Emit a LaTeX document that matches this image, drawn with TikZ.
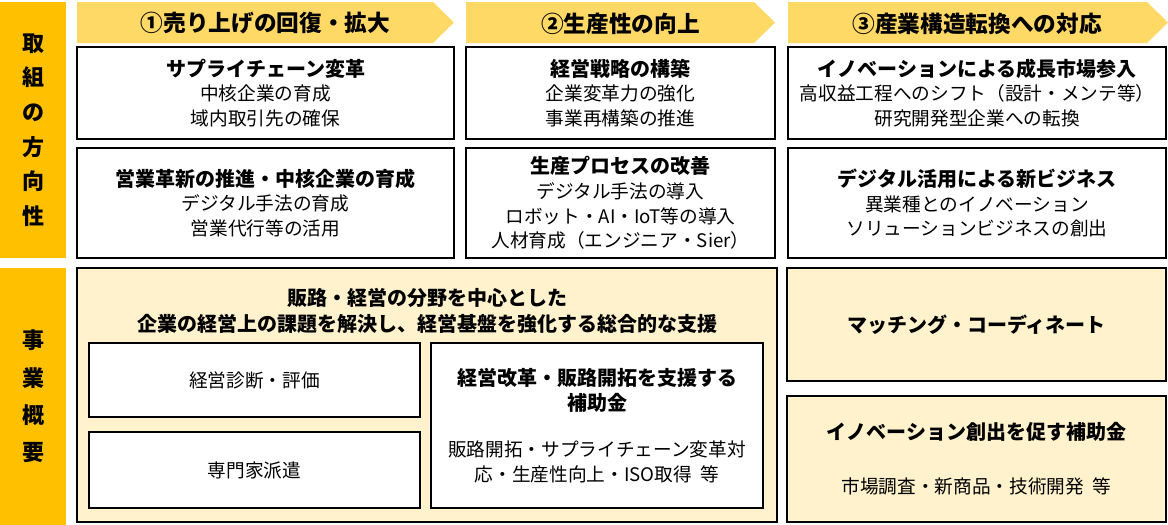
\documentclass[tikz,border=0pt]{standalone}
\usepackage{fontspec}
\setmainfont{Noto Sans CJK JP}
\usetikzlibrary{positioning}

\definecolor{sideorange}{HTML}{FFC000}
\definecolor{headyellow}{HTML}{FFD966}
\definecolor{paleyellow}{HTML}{FFF2CC}

\newcommand{\boxtitle}[1]{{\bfseries\fontsize{15}{18.5}\selectfont #1}}

\begin{document}
\begin{tikzpicture}[
  x=0.75pt, y=-0.75pt,
  size/.style 2 args={minimum width=#1*0.75pt, minimum height=#2*0.75pt},
  side/.style={fill=sideorange, inner sep=0pt, align=center, font=\bfseries\fontsize{16.5}{26}\selectfont},
  head/.style={fill=headyellow},
  headtext/.style={font=\bfseries\fontsize{17}{20}\selectfont},
  box/.style={draw, line width=1.5pt, fill=white, inner sep=0pt, align=center, font=\fontsize{14}{18.5}\selectfont},
  supp/.style={box, fill=paleyellow}
]
  \useasboundingbox (0,0) rectangle (1168,525);

  % left bars
  \node[side, size={66}{256}] (dirbar) at (33,130) {取\\組\\の\\方\\向\\性};
  \node[side, size={66}{257}, font=\bfseries\fontsize{16.5}{28}\selectfont] (planbar) at (33,396.5) {事\\業\\概\\要};

  % column heads
  \fill[head] (77,2) -- (433,2) -- (454,22.5) -- (433,43) -- (77,43) -- cycle;
  \fill[head] (466,2) -- (754,2) -- (775,22.5) -- (754,43) -- (466,43) -- cycle;
  \fill[head] (788,2) -- (1147,2) -- (1168,22.5) -- (1147,43) -- (788,43) -- cycle;
  \node[headtext] (head1) at (265.5,23.5) {①売り上げの回復・拡大};
  \node[headtext] (head2) at (620.5,23.5) {②生産性の向上};
  \node[headtext] (head3) at (977,23.5) {③産業構造転換への対応};

  % directions
  \node[box, size={377}{92}] (supply) at (265.5,93) {\boxtitle{サプライチェーン変革}\\中核企業の育成\\域内取引先の確保};
  \node[box, size={309}{92}, right=7.5pt of supply] (strategy) {\boxtitle{経営戦略の構築}\\企業変革力の強化\\事業再構築の推進};
  \node[box, size={378}{92}, right=8.25pt of strategy] (growth) {\boxtitle{イノベーションによる成長市場参入}\\高収益工程へのシフト（設計・メンテ等）\\研究開発型企業への転換};
  \node[box, size={377}{110}, below=5.25pt of supply] (sales) {\boxtitle{営業革新の推進・中核企業の育成}\\デジタル手法の育成\\営業代行等の活用};
  \node[box, size={309}{110}, below=5.25pt of strategy] (process) {\boxtitle{生産プロセスの改善}\\デジタル手法の導入\\ロボット・AI・IoT等の導入\\人材育成（エンジニア・Sier）};
  \node[box, size={378}{110}, below=5.25pt of growth] (digital) {\boxtitle{デジタル活用による新ビジネス}\\異業種とのイノベーション\\ソリューションビジネスの創出};

  % business outline
  \node[supp, size={700}{254}] (support) at (427,395) {};
  \node[align=center, font=\bfseries\fontsize{15}{19.5}\selectfont] (supporttitle) at (427,311)
    {販路・経営の分野を中心とした\\企業の経営上の課題を解決し、経営基盤を強化する総合的な支援};
  \node[box, size={331}{74}] (diagnosis) at (254.5,380) {経営診断・評価};
  \node[box, size={331}{76}] (expert) at (254.5,470) {専門家派遣};
  \node[box, size={332}{165}] (subsidy) at (597,425.5) {\boxtitle{経営改革・販路開拓を支援する}\\\boxtitle{補助金}\\[16pt]販路開拓・サプライチェーン変革対\\応・生産性向上・ISO取得\ \ 等};
  \node[supp, size={379}{113}] (matching) at (976.5,324.5) {\boxtitle{マッチング・コーディネート}};
  \node[supp, size={379}{126}] (innovation) at (976.5,459) {\boxtitle{イノベーション創出を促す補助金}\\[22pt]市場調査・新商品・技術開発\ \ 等};
\end{tikzpicture}
\end{document}
